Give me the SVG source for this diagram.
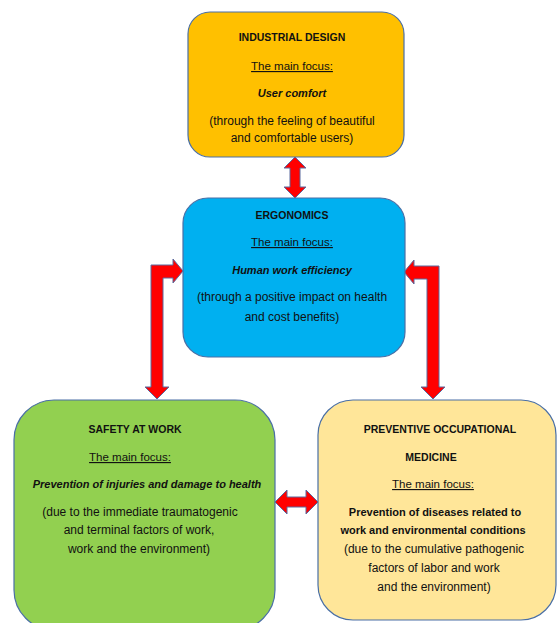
<svg xmlns="http://www.w3.org/2000/svg" width="557" height="623" viewBox="0 0 557 623">
<style>
.box{stroke:#4a6fa5;stroke-width:1.2}
.arr{fill:#ff0000;stroke:#5b6a9e;stroke-width:1}
text{font-family:"Liberation Sans",Arial,sans-serif;font-size:12px;fill:#111;text-anchor:middle}
.b{font-weight:bold;font-size:11px}
.h{font-weight:bold;font-size:10.5px}
.bi{font-weight:bold;font-style:italic;font-size:11px}
.u{text-decoration:underline;font-size:11.5px}
</style>
<rect width="557" height="623" fill="#ffffff"/>
<g id="connectors">
<path class="arr" d="M295,157 L306,168 L300,168 L300,187 L306,187 L295,198 L284,187 L290,187 L290,168 L284,168 Z"/>
<path class="arr" d="M275,502 L287,490 L287,497 L306,497 L306,490 L318,502 L306,514 L306,507 L287,507 L287,514 Z"/>
<path class="arr" d="M183,271 L173,259 L173,265 L151,265 L151,387 L145,387 L157,399 L169,387 L163,387 L163,278 L173,278 L173,283 Z"/>
<path class="arr" d="M404,272 L414,260 L414,266 L439,266 L439,387 L445,387 L433,399 L421,387 L427,387 L427,279 L414,279 L414,284 Z"/>
</g>
<g id="industrial-design">
<rect class="box" x="188" y="12" width="216" height="145" rx="22" fill="#ffc000"/>
<text class="h" x="292" y="41">INDUSTRIAL DESIGN</text>
<text class="u" x="292" y="70">The main focus:</text>
<text class="bi" x="292" y="97">User comfort</text>
<text x="292" y="125">(through the feeling of beautiful</text>
<text x="292" y="142">and comfortable users)</text>
</g>
<g id="ergonomics">
<rect class="box" x="183" y="198" width="222" height="159" rx="25" fill="#00b0f0"/>
<text class="h" x="292" y="219">ERGONOMICS</text>
<text class="u" x="292" y="246">The main focus:</text>
<text class="bi" x="292" y="274">Human work efficiency</text>
<text x="292" y="301">(through a positive impact on health</text>
<text x="292" y="321">and cost benefits)</text>
</g>
<g id="safety-at-work">
<rect class="box" x="14" y="400" width="261" height="230" rx="40" fill="#92d050"/>
<text class="h" x="135" y="433">SAFETY AT WORK</text>
<text class="u" x="130" y="461">The main focus:</text>
<text class="bi" x="147" y="488">Prevention of injuries and damage to health</text>
<text x="140" y="516">(due to the immediate traumatogenic</text>
<text x="139" y="534">and terminal factors of work,</text>
<text x="139" y="553">work and the environment)</text>
</g>
<g id="preventive-occupational-medicine">
<rect class="box" x="318" y="400" width="238" height="220" rx="35" fill="#ffe699"/>
<text class="h" x="440" y="433">PREVENTIVE OCCUPATIONAL</text>
<text class="h" x="431" y="461">MEDICINE</text>
<text class="u" x="433" y="488">The main focus:</text>
<text class="b" x="435" y="516">Prevention of diseases related to</text>
<text class="b" x="433" y="534">work and environmental conditions</text>
<text x="434" y="553">(due to the cumulative pathogenic</text>
<text x="434" y="572">factors of labor and work</text>
<text x="434" y="591">and the environment)</text>
</g>
</svg>
